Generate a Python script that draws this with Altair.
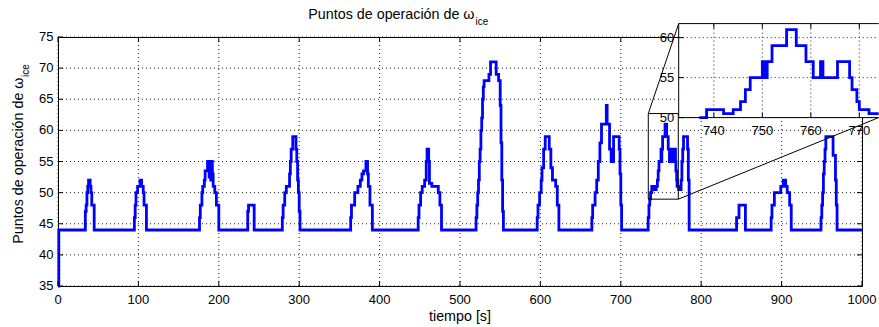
import altair as alt
import pandas as pd

# ---- operating-point trace (step signal breakpoints) ----
time_s = [
    0, 1,
    34, 35, 36, 37, 38, 40, 41, 42, 45,
    95, 96, 97, 99, 102, 104, 106, 107, 110,
    176, 177, 179, 180, 182, 183, 186, 188, 189, 190, 191, 192, 193, 195, 197, 200,
    236, 237, 244,
    279, 280, 282, 284, 288, 289, 290, 292, 296, 297, 298, 299, 300, 301,
    364, 365, 369, 373, 376, 378, 380, 383, 385, 386, 388, 391,
    448, 449, 451, 453, 456, 458, 459, 461, 462, 465, 473, 475, 477,
    520, 521, 522, 523, 524, 525, 526, 527, 528, 529, 530, 536, 538, 545, 548, 550, 551, 552, 553, 554,
    596, 597, 599, 601, 602, 604, 606, 611, 613, 615, 619, 621, 623,
    664, 665, 668, 670, 672, 674, 676, 682, 683, 686, 688, 689, 690, 691, 698, 699, 700, 701,
    734, 735, 736, 737, 738.5, 742, 744, 745.5, 746.5, 747.5, 750, 750.5, 751, 752, 755, 757, 759,
    760.5, 762, 762.5, 765.5, 768, 768.5, 769.5, 770, 772,
    775, 776, 777, 778, 783, 784, 785,
    844, 847, 855,
    887, 888, 891, 899, 902, 905, 907, 910, 912,
    949, 950, 951, 952, 953, 954, 955, 964, 967, 968, 969,
    1000,
]
omega_ice = [
    35, 44,
    47, 48, 50, 51, 52, 51, 50, 48, 44,
    46, 48, 50, 51, 52, 51, 50, 48, 44,
    46, 48, 50, 51, 52, 53.5, 55, 52.5, 55, 52, 55, 53, 51, 50, 48, 44,
    47, 48, 44,
    46, 48, 50, 51, 53, 55, 57, 59, 57, 55, 52, 50, 47, 44,
    46, 48, 50, 51, 52, 53, 53.5, 55, 53, 51, 48, 44,
    46, 48, 50, 51, 52, 55, 57, 55, 51.5, 51, 50, 48, 44,
    46, 48, 50, 52, 55, 57, 60, 62, 65, 67, 68, 69, 71, 69, 68, 64, 58, 52, 47, 44,
    46, 48, 50, 52, 54, 57, 59, 57, 54, 52, 51, 48, 44,
    46, 48, 50, 52, 55, 58, 61, 64, 61, 57, 55, 57, 55, 59, 57, 53, 48, 44,
    46, 48, 49, 50, 51, 50.5, 51, 52, 53.5, 55, 57, 55, 57, 59, 61, 59, 57,
    55, 57, 55, 57, 55, 53.5, 52, 51, 50.5,
    52, 55, 57, 59, 57, 52, 44,
    46, 48, 44,
    46, 48, 50, 51, 52, 51, 50, 48, 44,
    46, 48, 50, 53, 55, 57, 59, 56, 52, 48, 44,
    44,
]

# axis ticks
x_ticks = [0, 100, 200, 300, 400, 500, 600, 700, 800, 900, 1000]
y_ticks = [35, 40, 45, 50, 55, 60, 65, 70, 75]
x_range = [0, 1000]
y_range = [35, 75]

# zoomed window
zoom_t = [732.75, 774]
zoom_w = [50, 61.75]
zoom_x_ticks = [740, 750, 760, 770]
zoom_y_ticks = [50, 55, 60]
# rectangle marking the zoomed window on the main axes
box_t = [734.2, 771.5]
box_w = [48.95, 62.7]

# ---- layout (pixels) ----
FONT = "Liberation Sans"
W, H = 804, 249
IN_X = [620.7, 820.7]      # inset horizontal extent
IN_Y = [80.6, -13.4]       # inset bottom / top
TICK = 5
BLUE = "#0000ff"
GRID = "#222222"
DASH = [1, 3]

df = pd.DataFrame({"t": time_s, "w": omega_ice})

# inset trace: part of the series inside the zoom window
rows = [(t, w) for t, w in zip(time_s, omega_ice) if zoom_t[0] <= t <= zoom_t[1]]
while rows and rows[0][1] < zoom_w[0]:
    rows.pop(0)
rows.append((zoom_t[1], rows[-1][1]))
df_in = pd.DataFrame(rows, columns=["t", "w"])

one = pd.DataFrame({"a": [0]})

XM = alt.Scale(domain=x_range, nice=False, zero=False)
YM = alt.Scale(domain=y_range, nice=False, zero=False)
XI = alt.Scale(domain=zoom_t, range=IN_X, nice=False, zero=False)
YI = alt.Scale(domain=zoom_w, range=IN_Y, nice=False, zero=False)


def frame_layers(xs, ys, xticks, yticks, t_lo, t_hi, w_lo, w_hi, x_px, y_px,
                 right_ticks=True):
    """Dotted grid, inward ticks and tick labels for one set of axes."""
    X = lambda f: alt.X(f, scale=xs, axis=None)
    Y = lambda f: alt.Y(f, scale=ys, axis=None)
    gx = pd.DataFrame({"t": xticks, "lo": w_lo, "hi": w_hi})
    gy = pd.DataFrame({"w": yticks, "l": t_lo, "r": t_hi})
    xt = pd.DataFrame({"t": xticks})
    yt = pd.DataFrame({"w": yticks})
    layers = [
        alt.Chart(gx).mark_rule(color=GRID, strokeDash=DASH, strokeWidth=1).encode(
            x=X("t:Q"), y=Y("lo:Q"), y2="hi:Q"),
        alt.Chart(gy).mark_rule(color=GRID, strokeDash=DASH, strokeWidth=1).encode(
            y=Y("w:Q"), x=X("l:Q"), x2="r:Q"),
    ]
    return layers, [
        alt.Chart(xt).mark_rule(color="black").encode(
            x=X("t:Q"), y=alt.value(y_px[0]), y2=alt.value(y_px[0] - TICK)),
        alt.Chart(xt).mark_rule(color="black").encode(
            x=X("t:Q"), y=alt.value(y_px[1]), y2=alt.value(y_px[1] + TICK)),
        alt.Chart(yt).mark_rule(color="black").encode(
            y=Y("w:Q"), x=alt.value(x_px[0]), x2=alt.value(x_px[0] + TICK)),
    ] + ([alt.Chart(yt).mark_rule(color="black").encode(
            y=Y("w:Q"), x=alt.value(x_px[1]), x2=alt.value(x_px[1] - TICK))]
         if right_ticks else []) + [
        alt.Chart(xt).mark_text(font=FONT, fontSize=13, color="black",
                                align="center", baseline="alphabetic").encode(
            x=X("t:Q"), y=alt.value(y_px[0] + 17.5), text=alt.Text("t:Q")),
        alt.Chart(yt).mark_text(font=FONT, fontSize=13, color="black",
                                align="right", baseline="middle").encode(
            y=Y("w:Q"), x=alt.value(x_px[0] - 4.5), text=alt.Text("w:Q")),
    ]


def txt(s, x, y, size, align="left", angle=0):
    kw = dict(font=FONT, fontSize=size, color="black", align=align, baseline="alphabetic")
    if angle:
        kw["angle"] = angle
    return alt.Chart(one).mark_text(**kw).encode(
        x=alt.value(x), y=alt.value(y), text=alt.value(s))


# ---- main axes ----
m_grid, m_guides = frame_layers(XM, YM, x_ticks, y_ticks, x_range[0], x_range[1],
                                y_range[0], y_range[1], [0, W], [H, 0])

main_line = alt.Chart(df).mark_line(
    color=BLUE, strokeWidth=2.8, interpolate="step-after", strokeJoin="miter"
).encode(x=alt.X("t:Q", scale=XM, axis=None), y=alt.Y("w:Q", scale=YM, axis=None))

box = alt.Chart(pd.DataFrame({"t0": [box_t[0]], "t1": [box_t[1]],
                              "w0": [box_w[0]], "w1": [box_w[1]]})).mark_rect(
    fillOpacity=0, stroke="black", strokeWidth=1
).encode(
    x=alt.X("t0:Q", scale=XM, axis=None), x2="t1:Q",
    y=alt.Y("w0:Q", scale=YM, axis=None), y2="w1:Q",
)

# connectors from the box corners to the inset corners
conn_top = alt.Chart(pd.DataFrame({"t": [box_t[0]], "w": [box_w[1]]})).mark_rule(
    color="black", strokeWidth=1
).encode(
    x=alt.X("t:Q", scale=XM, axis=None), y=alt.Y("w:Q", scale=YM, axis=None),
    x2=alt.value(IN_X[0]), y2=alt.value(IN_Y[1]),
)
conn_bot = alt.Chart(pd.DataFrame({"t": [box_t[1]], "w": [box_w[0]]})).mark_rule(
    color="black", strokeWidth=1
).encode(
    x=alt.X("t:Q", scale=XM, axis=None), y=alt.Y("w:Q", scale=YM, axis=None),
    x2=alt.value(IN_X[1]), y2=alt.value(IN_Y[0]),
)

# titles (the subscript is a separate, smaller text)
title_a = txt("Puntos de operación de ω", 416.5, -18.5, 14.3, align="right")
title_b = txt("ice", 417.5, -12, 10)
ylab_a = txt("Puntos de operación de ω", -35.5, 40.5, 14.3, align="right", angle=270)
ylab_b = txt("ice", -29, 40, 10, align="left", angle=270)
xlab = txt("tiempo [s]", W / 2, 283.5, 14.3, align="center")

main = alt.layer(*m_grid, main_line, *m_guides, box, conn_top, conn_bot,
                 title_a, title_b, ylab_a, ylab_b, xlab)

# ---- inset ----
in_bg = alt.Chart(pd.DataFrame({"t0": [zoom_t[0]], "t1": [zoom_t[1]],
                                "w0": [zoom_w[0]], "w1": [zoom_w[1]]})).mark_rect(
    color="white"
).encode(
    x=alt.X("t0:Q", scale=XI, axis=None), x2="t1:Q",
    y=alt.Y("w0:Q", scale=YI, axis=None), y2="w1:Q",
)
i_grid, i_guides = frame_layers(XI, YI, zoom_x_ticks, zoom_y_ticks, zoom_t[0], zoom_t[1],
                                zoom_w[0], zoom_w[1], IN_X, IN_Y, right_ticks=False)
in_line = alt.Chart(df_in).mark_line(
    color=BLUE, strokeWidth=2.8, interpolate="step-after", strokeJoin="miter"
).encode(x=alt.X("t:Q", scale=XI, axis=None), y=alt.Y("w:Q", scale=YI, axis=None))

edges = pd.DataFrame({
    "t0": [zoom_t[0], zoom_t[0], zoom_t[0]],
    "t1": [zoom_t[1], zoom_t[1], zoom_t[0]],
    "w0": [zoom_w[1], zoom_w[0], zoom_w[0]],
    "w1": [zoom_w[1], zoom_w[0], zoom_w[1]],
})
in_edges = alt.Chart(edges).mark_rule(color="black", strokeWidth=1).encode(
    x=alt.X("t0:Q", scale=XI, axis=None), x2="t1:Q",
    y=alt.Y("w0:Q", scale=YI, axis=None), y2="w1:Q",
)

inset = alt.layer(in_bg, *i_grid, in_line, in_edges, *i_guides)

chart = alt.layer(main, inset).resolve_scale(
    x="independent", y="independent"
).properties(
    width=W, height=H,
    autosize=alt.AutoSizeParams(type="none"),
    padding={"left": 58, "top": 37, "right": 17, "bottom": 41},
    background="white",
).configure_view(stroke="black", strokeWidth=1)

chart.save("out.html", embed_options={"renderer": "svg", "actions": False})
